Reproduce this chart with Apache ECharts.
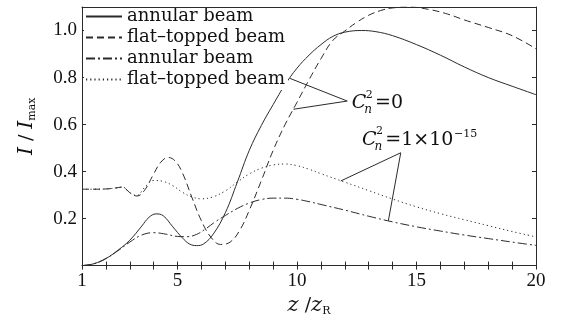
<!DOCTYPE html>
<html>
<head>
<meta charset="utf-8">
<script src="https://cdn.jsdelivr.net/npm/echarts@6/dist/echarts.min.js"></script>
<style>
  html, body { margin: 0; padding: 0; background: #fff; }
  #chart { width: 562px; height: 322px; }
</style>
</head>
<body>
<div id="chart"></div>
<script>
// ---- data: normalised intensity I/Imax versus propagation distance z/zR ----
const annularVacuum = [[1,0],[1.5,0.008],[2,0.03],[2.5,0.065],[3,0.108],[3.5,0.168],[3.8,0.205],[4.1,0.22],[4.4,0.212],[4.8,0.165],[5.2,0.118],[5.5,0.092],[5.8,0.085],[6.1,0.093],[6.5,0.135],[7,0.225],[7.5,0.355],[8,0.49],[8.5,0.595],[9,0.685],[9.5,0.77],[10,0.84],[10.5,0.895],[11,0.94],[11.5,0.975],[12,0.993],[12.7,1.0],[13.3,0.995],[14,0.978],[15,0.94],[16,0.895],[17,0.845],[18,0.8],[19,0.763],[20,0.727]];
const flatVacuum = [[1,0.325],[1.5,0.325],[2,0.326],[2.4,0.33],[2.7,0.334],[3,0.31],[3.3,0.296],[3.6,0.318],[4,0.39],[4.3,0.44],[4.6,0.46],[4.9,0.445],[5.2,0.395],[5.6,0.29],[6,0.19],[6.4,0.12],[6.8,0.09],[7.2,0.1],[7.6,0.15],[8,0.235],[8.5,0.36],[9,0.49],[9.5,0.6],[10,0.695],[10.5,0.79],[11,0.88],[11.5,0.958],[12,0.998],[12.5,1.035],[13,1.065],[13.5,1.085],[14,1.096],[14.7,1.1],[15.5,1.09],[16.3,1.07],[17,1.045],[18,1.013],[19,0.978],[20,0.922]];
const annularTurb = [[1,0],[1.5,0.008],[2,0.03],[2.5,0.063],[3,0.1],[3.5,0.13],[4,0.14],[4.5,0.134],[5,0.124],[5.4,0.123],[5.8,0.133],[6.2,0.158],[6.6,0.188],[7,0.213],[7.5,0.243],[8,0.266],[8.5,0.281],[9,0.287],[9.5,0.287],[10,0.282],[10.5,0.272],[11,0.26],[12,0.236],[13,0.21],[14,0.186],[15,0.165],[16,0.147],[17,0.13],[18,0.115],[19,0.1],[20,0.086]];
const flatTurb = [[1,0.325],[1.5,0.325],[2,0.326],[2.4,0.33],[2.7,0.334],[3,0.31],[3.3,0.298],[3.6,0.33],[4,0.362],[4.4,0.358],[4.8,0.34],[5.2,0.312],[5.6,0.292],[6,0.284],[6.5,0.293],[7,0.318],[7.5,0.355],[8,0.39],[8.5,0.414],[9,0.428],[9.5,0.432],[10,0.425],[10.5,0.41],[11,0.391],[12,0.355],[13,0.319],[14,0.283],[15,0.25],[16,0.221],[17,0.195],[18,0.17],[19,0.145],[20,0.122]];

const seriesIds = ['annular-vacuum', 'flat-vacuum', 'annular-turb', 'flat-turb'];
const legendLabels = ['annular beam', 'flat\u2013topped beam', 'annular beam', 'flat\u2013topped beam'];
const xTickLabels = [1, 5, 10, 15, 20];
const yTickLabels = [0.2, 0.4, 0.6, 0.8, 1.0];

// leader lines: shared vertex near the label, one end on each curve
const vacuumLeader = { vertex: [12.1, 0.70], ends: [[9.71, 0.796], [9.85, 0.665]], labelAt: [12.29, 0.692] };
const turbLeader = { vertex: [14.34, 0.48], ends: [[11.83, 0.36], [13.82, 0.19]], labelAt: [12.72, 0.536] };

const SERIF = '"DejaVu Serif", serif';
const NUM = '"Liberation Serif", "Times New Roman", serif';
const INK = '#2b2b2b';

const chart = echarts.init(document.getElementById('chart'), null, { renderer: 'canvas' });

const lineStyleInk = { color: INK, width: 1 };
const boxAxis = {
  axisLine: { lineStyle: lineStyleInk },
  axisTick: { inside: true, length: 4, lineStyle: lineStyleInk },
  splitLine: { show: false }
};

function leaderLines(g) {
  return g.ends.map(e => [{ coord: g.vertex }, { coord: e }]);
}

function curve(id, data, dash, markLines) {
  const s = {
    id: id, name: id, type: 'line', data: data, xAxisIndex: 0, yAxisIndex: 0,
    showSymbol: false, symbol: 'none', smooth: 0.4,
    lineStyle: { color: INK, width: 1, type: dash },
    itemStyle: { color: INK },
    silent: true, animation: false
  };
  if (markLines) {
    s.markLine = {
      silent: true, symbol: ['none', 'none'], label: { show: false },
      lineStyle: { color: INK, width: 1, type: 'solid' },
      data: markLines, animation: false
    };
  }
  return s;
}

chart.setOption({
  animation: false,
  backgroundColor: '#fff',
  grid: { left: 82, top: 7, width: 454, height: 261 },
  legend: {
    data: seriesIds,
    orient: 'vertical', left: 84, top: 6,
    padding: [0, 3, 0, 1], itemGap: 0, itemWidth: 36, itemHeight: 14,
    backgroundColor: '#fff',
    itemStyle: { opacity: 0, borderWidth: 0 },
    formatter: name => legendLabels[seriesIds.indexOf(name)],
    textStyle: { fontFamily: SERIF, fontSize: 18, color: '#111', lineHeight: 21 }
  },
  xAxis: [
    Object.assign({
      type: 'value', min: 1, max: 20, interval: 1, position: 'bottom',
      axisLabel: {
        formatter: v => (xTickLabels.indexOf(v) >= 0 ? String(v) : ''),
        fontFamily: NUM, fontSize: 19, color: '#111', margin: 6
      },
      name: '{i|z} /{i|z}{s|R}', nameLocation: 'middle', nameGap: 27,
      nameTextStyle: {
        fontFamily: SERIF, fontSize: 19, color: '#111',
        rich: {
          i: { fontFamily: SERIF, fontStyle: 'italic', fontSize: 21, color: '#111', lineHeight: 22 },
          s: { fontFamily: SERIF, fontSize: 11, color: '#111', lineHeight: 10, verticalAlign: 'bottom' }
        }
      }
    }, boxAxis),
    // top frame: ticks sit beneath the legend box, the frame line stays above it
    {
      type: 'value', min: 1, max: 20, interval: 1, position: 'top', z: 0,
      axisLine: { show: false },
      axisTick: { inside: true, length: 4, lineStyle: lineStyleInk },
      axisLabel: { show: false }, splitLine: { show: false }
    },
    {
      type: 'value', min: 1, max: 20, interval: 1, position: 'top', z: 10,
      axisLine: { lineStyle: lineStyleInk },
      axisTick: { show: false }, axisLabel: { show: false }, splitLine: { show: false }
    }
  ],
  yAxis: [
    Object.assign({
      type: 'value', min: 0, max: 1.1, interval: 0.2, position: 'left',
      axisLabel: {
        formatter: v => (yTickLabels.some(t => Math.abs(t - v) < 1e-6) ? v.toFixed(1) : ''),
        fontFamily: NUM, fontSize: 19, color: '#111', margin: 5
      },
      name: '{i|I} / {i|I}{s|max}', nameLocation: 'middle', nameRotate: 90, nameGap: 44,
      nameTextStyle: {
        fontFamily: SERIF, fontSize: 19, color: '#111', padding: [0, 0, 0, 20],
        rich: {
          i: { fontFamily: SERIF, fontStyle: 'italic', fontSize: 20, color: '#111', lineHeight: 22 },
          s: { fontFamily: SERIF, fontSize: 11, color: '#111', lineHeight: 10, verticalAlign: 'bottom' }
        }
      }
    }, boxAxis),
    Object.assign({
      type: 'value', min: 0, max: 1.1, interval: 0.2, position: 'right',
      axisLabel: { show: false }
    }, boxAxis)
  ],
  series: [
    curve(seriesIds[0], annularVacuum, 'solid', leaderLines(vacuumLeader)),
    curve(seriesIds[1], flatVacuum, [7, 4]),
    curve(seriesIds[2], annularTurb, [9, 3, 2, 3], leaderLines(turbLeader)),
    curve(seriesIds[3], flatTurb, [1.2, 3])
  ]
});

// ---- C_n^2 labels with stacked sub/superscript ----
const measureCtx = document.createElement('canvas').getContext('2d');
function textWidth(text, size, italic) {
  measureCtx.font = (italic ? 'italic ' : '') + size + 'px ' + SERIF;
  return measureCtx.measureText(text).width;
}
function txt(text, x, y, size, italic) {
  return {
    type: 'text', x: x, y: y, silent: true,
    style: {
      text: text, fontFamily: SERIF, fontSize: size, fontStyle: italic ? 'italic' : 'normal',
      fill: '#111', align: 'left', verticalAlign: 'middle'
    }
  };
}
function cn2Label(at, rest, restSup) {
  const p = chart.convertToPixel({ gridIndex: 0 }, at);
  const big = 19;
  const cw = textWidth('C', big, true);
  const supW = Math.max(textWidth('2', 11, false), textWidth('n', 12, true));
  const restX = cw + supW + 1;
  const children = [
    txt('C', 0, 0, big, true),
    txt('2', cw - 0.5, -8, 11, false),
    txt('n', cw - 2, 7, 12, true),
    txt(rest, restX, 0, big, false)
  ];
  if (restSup) {
    children.push(txt(restSup, restX + textWidth(rest, big, false) + 0.5, -5, 11, false));
  }
  return { type: 'group', x: p[0], y: p[1], z: 100, children: children };
}

chart.setOption({
  graphic: [
    cn2Label(vacuumLeader.labelAt, '=0'),
    cn2Label(turbLeader.labelAt, '=1\u00d710', '\u221215')
  ]
});
</script>
</body>
</html>
